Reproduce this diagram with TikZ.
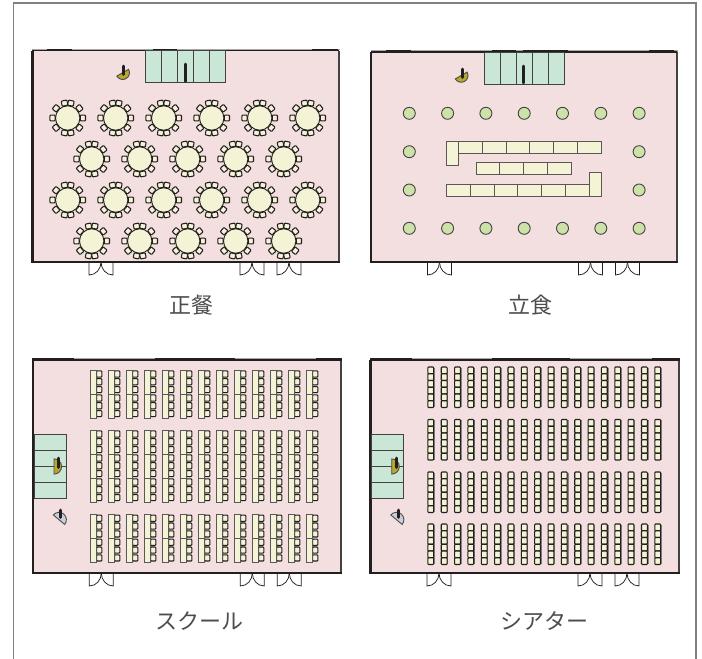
\documentclass[tikz,border=0pt]{standalone}
\usepackage{fontspec}
\newfontfamily\cjk{Noto Sans CJK JP}
\definecolor{roompink}{HTML}{F3DEE0}
\definecolor{tablecream}{HTML}{F4F3D6}
\definecolor{stagegreen}{HTML}{C9E6D6}
\definecolor{postgreen}{HTML}{CDE2A8}
\definecolor{gold}{HTML}{B5A82A}
\definecolor{dark}{HTML}{231F20}
\definecolor{wallgray}{HTML}{A8A8A8}
\definecolor{paleblue}{HTML}{C8CFDA}
\tikzset{
  framepen/.style={draw=black!50,line width=1.2pt},
  wall/.style={draw=dark,line width=2.4pt,line cap=butt},
  sidewall/.style={draw=dark!85,line width=1.5pt},
  topwall/.style={draw=dark,line width=1.5pt},
  softwall/.style={draw=wallgray,line width=1.3pt},
  doorpen/.style={draw=dark,line width=.75pt},
  stagepen/.style={draw=dark!85,line width=.9pt,fill=stagegreen},
  roundtable/.style={draw=dark,line width=.9pt,fill=tablecream},
  chairpen/.style={draw=dark,line width=1.05pt,fill=tablecream,rounded corners=.8pt},
  tablepen/.style={draw=dark!75,line width=.9pt,fill=tablecream},
  postpen/.style={draw=dark!85,line width=.9pt,fill=postgreen},
  barpen/.style={draw=dark,line width=2.8pt,line cap=round},
  lecternpen/.style={draw=dark!80,line width=.9pt},
  caption/.style={text=dark!80,font=\cjk\fontsize{22}{22}\selectfont,inner sep=0pt}
}
% half disc: flat edge on local x axis, bulge towards local +y (downwards on screen)
\newcommand{\HalfDisc}[5]{% x,y,rot,r,colour
  \draw[lecternpen,fill=#5,shift={(#1,#2)},rotate=#3]
    (-#4,0) .. controls (-#4,.5523*#4) and (-.5523*#4,#4) .. (0,#4)
            .. controls (.5523*#4,#4) and (#4,.5523*#4) .. (#4,0) -- cycle;}
\newcommand{\DoorPair}[2]{% left x, wall y
  \draw[doorpen,shift={(#1,#2)}] (0,0) -- (0,13) .. controls (7,13) and (12,7) .. (12,0);
  \draw[doorpen,shift={(#1,#2)}] (24,0) -- (24,13) .. controls (17,13) and (12,7) .. (12,0);}
\newcommand{\Room}[4]{% x0,y0,x1,y1
  \fill[roompink] (#1,#2) rectangle (#3,#4);
  \DoorPair{#1+56.5}{#4}\DoorPair{#1+207.5}{#4}\DoorPair{#1+244.5}{#4}
  \draw[sidewall] (#3,#2) -- (#3,#4);
  \draw[wall] (#1,#2) -- (#1,#4) -- (#3+.7,#4);}
\newcommand{\RoundTable}[2]{%
  \foreach \a in {0,40,78,102,140,180,220,258,282,320}
    \draw[chairpen,shift={(#1,#2)},rotate=\a] (12.6,-2.9) rectangle (17.8,2.9);
  \draw[roundtable] (#1,#2) circle[radius=12.2];}
\newcommand{\HStage}[2]{% x0,y0
  \foreach \i in {0,...,4}
    \draw[stagepen] (#1+\i*16,#2) rectangle ++(16,32);}
\newcommand{\VStage}[3]{% x0,x1,y0
  \foreach \i in {0,...,3}
    \draw[stagepen] (#1,#3+\i*16) rectangle (#2,#3+\i*16+16);}
\newcommand{\SchoolBlock}[2]{% top y, tables
  \foreach \c in {0,...,12}{
    \foreach \t in {1,...,#2}{
      \pgfmathsetmacro{\xx}{90+18*\c}
      \pgfmathsetmacro{\yy}{#1+24*(\t-1)}
      \foreach \k in {4,11.8,19.6}
        \draw[chairpen] (\xx+6.5,\yy+\k-3.1) rectangle ++(5.3,6.2);
      \draw[tablepen] (\xx,\yy) rectangle ++(6.3,24);
    }}}
\newcommand{\TheatreBlock}[1]{% top y
  \foreach \c in {0,...,17}{
    \pgfmathsetmacro{\xx}{427.9+13.35*\c}
    \draw[draw=dark!55,line width=1.4pt] (\xx+6.4,#1+.6) -- ++(0,39.6);
    \foreach \k in {0,...,5}
      \draw[chairpen] (\xx,#1+\k*6.75) rectangle ++(5.8,6.75);
  }}
\begin{document}
\begin{tikzpicture}[x=1pt,y=-1pt]
\useasboundingbox (0,0) rectangle (702,659);
\fill[white] (0,0) rectangle (702,659);
% outer frame, open at the bottom
\draw[framepen] (13.5,659) -- (13.5,3) -- (696,3) -- (696,659);

% ---- top left: banquet
\Room{32.5}{50.5}{339}{262}
\draw[softwall] (32,49.4) -- (339.5,49.4);
\draw[topwall] (32,50.6) -- (339,50.6);
\draw[draw=dark,line width=2pt] (46.5,49.8) -- (72,49.8) (153,49.8) -- (177,49.8) (312,49.8) -- (338,49.8);
\HStage{145.3}{50.6}
\draw[barpen] (185.7,64) -- (185.7,81.5);
\HalfDisc{122.7}{72.7}{30}{6.8}{gold}
\draw[barpen,line width=2.6pt] (123.3,66) -- (123.3,74.5);
\foreach \n in {0,...,5}{
  \RoundTable{67.7+48*\n}{118}
  \RoundTable{67.7+48*\n}{200}}
\foreach \n in {0,...,4}{
  \RoundTable{91.7+48*\n}{159}
  \RoundTable{91.7+48*\n}{241}}
\node[caption] (capA) at (191.5,305) {正餐};

% ---- top right: standing buffet
\Room{371}{52}{677}{262}
\draw[softwall] (371,51) -- (677.5,51);
\draw[topwall] (371,52.2) -- (677,52.2);
\draw[draw=dark,line width=2pt] (386,51.4) -- (411,51.4) (492,51.4) -- (516,51.4) (523,51.4) -- (568,51.4) (649,51.4) -- (674,51.4);
\HStage{484}{52.3}
\draw[barpen] (523.7,66) -- (523.7,83);
\HalfDisc{461.2}{75.5}{30}{6.8}{gold}
\draw[barpen,line width=2.6pt] (462.3,69) -- (462.3,77.5);
\foreach \c in {0,...,6}{
  \draw[postpen] (409.3+38.3*\c,113.3) circle[radius=6];
  \draw[postpen] (409.3+38.3*\c,228.3) circle[radius=6];}
\foreach \c in {0,6}{
  \draw[postpen] (409.3+38.3*\c,151.7) circle[radius=6];
  \draw[postpen] (409.3+38.3*\c,190) circle[radius=6];}
\draw[tablepen] (446.3,141.7) rectangle (458.3,165.7);
\foreach \i in {0,...,5}
  \draw[tablepen] (458.3+23.85*\i,141.7) rectangle ++(23.85,12);
\foreach \i in {0,...,3}
  \draw[tablepen] (476+23.85*\i,162.7) rectangle ++(23.85,12);
\foreach \i in {0,...,5}
  \draw[tablepen] (446.3+23.85*\i,184) rectangle ++(23.85,12);
\draw[tablepen] (589.3,172) rectangle (601.3,196);
\node[caption] (capB) at (530.5,305) {立食};

% ---- bottom left: school
\Room{32.8}{359.5}{341}{573}
\draw[topwall,line width=2.4pt] (32,359.4) -- (341.6,359.4);
\draw[softwall] (74,358.8) -- (155,358.8) (235,358.8) -- (316,358.8);
\VStage{34}{66.3}{434}
\HalfDisc{54}{466.5}{90}{7.6}{gold}
\draw[barpen] (58.7,458) -- (58.7,467.5);
\HalfDisc{59}{519.7}{140}{7.4}{paleblue}
\draw[barpen,line width=2.6pt] (60.7,510) -- (60.7,517.5);
\SchoolBlock{370}{2}
\SchoolBlock{430}{3}
\SchoolBlock{514.3}{2}
\node[caption] (capC) at (199,621) {スクール};

% ---- bottom right: theatre
\Room{370.5}{359.5}{679}{573}
\draw[topwall,line width=2.4pt] (370,359.4) -- (679.6,359.4);
\draw[softwall] (412,358.8) -- (492,358.8) (570,358.8) -- (652,358.8);
\VStage{371.5}{403.7}{434}
\HalfDisc{391.7}{466.5}{90}{7.6}{gold}
\draw[barpen] (396.5,458) -- (396.5,467.5);
\HalfDisc{396.5}{519.7}{140}{7.4}{paleblue}
\draw[barpen,line width=2.6pt] (398.2,510) -- (398.2,517.5);
\TheatreBlock{367}
\TheatreBlock{419.5}
\TheatreBlock{472}
\TheatreBlock{524}
\node[caption] (capD) at (544,621) {シアター};
\end{tikzpicture}
\end{document}
